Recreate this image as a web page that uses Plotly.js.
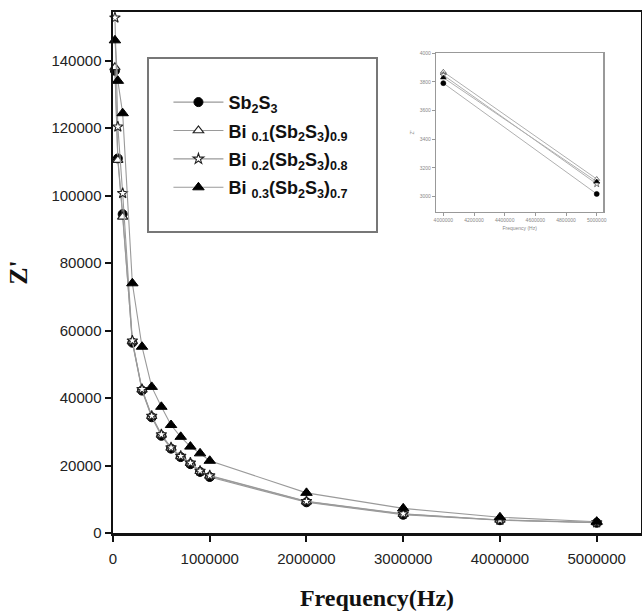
<!DOCTYPE html>
<html>
<head>
<meta charset="utf-8">
<script src="https://cdn.plot.ly/plotly-3.0.1.min.js"></script>
<style>html,body{margin:0;padding:0;background:#fff}#chart{width:642px;height:612px}</style>
</head>
<body>
<div id="chart"></div>
<script>
// Main chart data
const freq = [20000, 50000, 100000, 200000, 300000, 400000, 500000, 600000, 700000, 800000, 900000, 1000000, 2000000, 3000000, 4000000, 5000000];
const zSb2S3 = [137000, 111000, 94500, 56400, 42200, 34300, 28800, 25000, 22500, 20400, 18100, 16600, 9100, 5400, 3790, 3020];
const zBi01  = [138000, 110500, 93700, 56800, 42500, 34600, 29100, 25200, 22700, 20700, 18300, 16900, 9300, 5600, 3870, 3120];
const zBi02  = [152700, 120400, 100700, 57000, 42600, 34700, 29200, 25300, 22800, 20800, 18400, 17000, 9400, 5700, 3850, 3090];
const zBi03  = [146000, 134000, 124400, 74000, 55200, 43300, 37400, 32000, 28500, 25600, 23600, 21400, 11900, 7300, 4650, 3350];

// Inset data
const insetFreq = [4000000, 5000000];
const insetSb2S3 = [3792, 3019];
const insetBi01  = [3871, 3123];
const insetBi02  = [3848, 3089];
const insetBi03  = [3830, 3105];

const names = [
  'Sb<sub>2</sub>S<sub>3</sub>',
  'Bi <sub>0.1</sub>(Sb<sub>2</sub>S<sub>3</sub>)<sub>0.9</sub>',
  'Bi <sub>0.2</sub>(Sb<sub>2</sub>S<sub>3</sub>)<sub>0.8</sub>',
  'Bi <sub>0.3</sub>(Sb<sub>2</sub>S<sub>3</sub>)<sub>0.7</sub>'
];
const lineStyle = {color: '#9a9a9a', width: 1.1};
const markers = [
  {symbol: 'circle', size: 9, color: '#000', line: {color: '#000', width: 1}},
  {symbol: 'triangle-up', size: 9, color: '#fff', line: {color: '#222', width: 1.2}},
  {symbol: 'star', size: 8, color: '#fff', line: {color: '#222', width: 1.1}},
  {symbol: 'triangle-up', size: 10, color: '#000', line: {color: '#000', width: 1}}
];
const series = [zSb2S3, zBi01, zBi02, zBi03];
const insetSeries = [insetSb2S3, insetBi01, insetBi02, insetBi03];

const traces = [];
series.forEach((ys, i) => {
  traces.push({x: freq, y: ys, type: 'scatter', mode: 'lines+markers', name: names[i],
    legendgroup: 'g' + i,
    line: lineStyle, marker: markers[i], cliponaxis: false});
});
insetSeries.forEach((ys, i) => {
  traces.push({x: insetFreq, y: ys, type: 'scatter', mode: 'lines+markers', showlegend: false,
    xaxis: 'x2', yaxis: 'y2',
    line: {color: '#b0b0b0', width: 1}, marker: Object.assign({}, markers[i], {size: 5, line: {color: markers[i].line.color, width: 0.6}})});
});

const tickFont = {family: 'Arial, Liberation Sans, sans-serif', size: 15, color: '#222'};
const layout = {
  width: 642, height: 612,
  margin: {l: 113, r: 1, t: 12, b: 79},
  paper_bgcolor: '#fff', plot_bgcolor: '#fff',
  showlegend: true,
  legend: {
    x: 0.105, y: 0.862, xanchor: 'left', yanchor: 'top',
    bgcolor: 'rgba(0,0,0,0)', borderwidth: 0,
    font: {family: 'Arial, Liberation Sans, sans-serif', size: 18, color: '#111', weight: 'bold'},
    tracegroupgap: 2, itemwidth: 50
  },
  shapes: [{type: 'rect', xref: 'paper', yref: 'paper', x0: 0.0663, x1: 0.5, y0: 0.5777, y1: 0.9117,
    line: {color: '#777', width: 2}, fillcolor: 'rgba(0,0,0,0)', layer: 'below'}],
  xaxis: {
    range: [0, 5458000], dtick: 1000000, tick0: 0,
    showgrid: false, zeroline: false,
    showline: true, linecolor: '#111', linewidth: 2.5, mirror: true,
    ticks: 'outside', ticklen: 6, tickwidth: 2, tickcolor: '#111',
    tickformat: 'd', ticklabelstandoff: 4,
    tickfont: tickFont,
    title: {text: 'Frequency(Hz)', font: {family: 'Times New Roman, Liberation Serif, serif', size: 24, color: '#111', weight: 'bold'}, standoff: 24}
  },
  yaxis: {
    range: [0, 154400], dtick: 20000, tick0: 0,
    showgrid: false, zeroline: false,
    showline: true, linecolor: '#111', linewidth: 2.5, mirror: true,
    ticks: 'outside', ticklen: 6, tickwidth: 2, tickcolor: '#111',
    tickformat: 'd',
    tickfont: tickFont,
    title: {text: "Z'", font: {family: 'Times New Roman, Liberation Serif, serif', size: 26, color: '#111', weight: 'bold'}, standoff: 17}
  },
  xaxis2: {
    domain: [0.6117, 0.9286], anchor: 'y2',
    range: [3952000, 5043000], dtick: 200000, tick0: 4000000,
    showgrid: false, zeroline: false,
    showline: true, linecolor: '#999', linewidth: 1.2, mirror: true,
    ticks: 'outside', ticklen: 3, tickwidth: 1, tickcolor: '#999',
    tickformat: 'd',
    tickfont: {family: 'Arial, sans-serif', size: 5, color: '#888'},
    title: {text: 'Frequency (Hz)', font: {family: 'Arial, sans-serif', size: 5, color: '#888'}, standoff: 4}
  },
  yaxis2: {
    domain: [0.6167, 0.9207], anchor: 'x2',
    range: [2895, 4000], dtick: 200, tick0: 3000,
    showgrid: false, zeroline: false,
    showline: true, linecolor: '#999', linewidth: 1.2, mirror: true,
    ticks: 'outside', ticklen: 3, tickwidth: 1, tickcolor: '#999',
    tickformat: 'd',
    tickfont: {family: 'Arial, sans-serif', size: 5, color: '#888'},
    title: {text: "Z'", font: {family: 'Arial, sans-serif', size: 5, color: '#888'}, standoff: 4}
  }
};

Plotly.newPlot('chart', traces, layout, {staticPlot: true, displayModeBar: false});
</script>
</body>
</html>
